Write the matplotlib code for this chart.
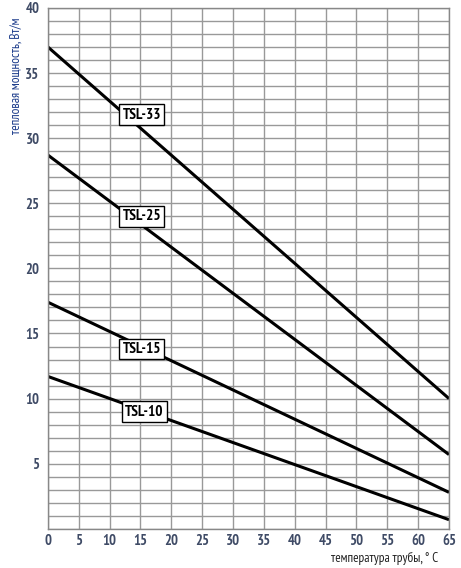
import matplotlib
matplotlib.use('Agg')
import matplotlib.pyplot as plt
import numpy as np

plt.rcParams['font.family'] = ['PT Sans Narrow', 'DejaVu Sans']

# pipe temperature range
temps = [0, 65]

# heat output at 0 and 65 degC for each cable type
tsl33 = [37.0, 10.0]
tsl25 = [28.7, 5.7]
tsl15 = [17.4, 2.8]
tsl10 = [11.7, 0.7]

names = ['TSL-33', 'TSL-25', 'TSL-15', 'TSL-10']
label_x = [15.2, 15.2, 15.2, 15.6]
label_y = [31.8, 24.0, 13.8, 9.0]

xticks = list(range(0, 70, 5))
yticks = [5, 10, 15, 20, 25, 30, 35, 40]

fig = plt.figure(figsize=(4.61, 5.68), dpi=100)
ax = fig.add_axes([0.104, 0.069, 0.87, 0.917])

ax.set_xlim(0, 65)
ax.set_ylim(0, 40)
ax.set_xticks(xticks)
ax.set_yticks(yticks)
ax.set_yticks(np.arange(0, 41, 1), minor=True)
ax.grid(True, which='major', color='#999999', linewidth=1.0)
ax.grid(True, which='minor', axis='y', color='#999999', linewidth=1.0)
ax.set_axisbelow(True)
for s in ax.spines.values():
    s.set_color('#888888')
    s.set_linewidth(1.0)
ax.tick_params(which='both', length=0)
ax.tick_params(axis='both', labelsize=10.5, labelcolor='#3f4b66')
ax.tick_params(axis='x', pad=4)
ax.tick_params(axis='y', pad=6)
for lbl in ax.get_xticklabels() + ax.get_yticklabels():
    lbl.set_fontweight('bold')

for vals, name, lx, ly in zip([tsl33, tsl25, tsl15, tsl10], names, label_x, label_y):
    ax.plot(temps, vals, color='black', linewidth=2.2, solid_capstyle='butt')
    ax.text(lx, ly, name, ha='center', va='center', fontsize=11, fontweight='bold',
            bbox=dict(boxstyle='square,pad=0.22', facecolor='white', edgecolor='black', linewidth=1.0))

fig.text(0.034, 0.97, 'тепловая мощность, Вт/м', rotation=90, ha='center', va='top',
         fontsize=9.5, color='#1a3a8a')
fig.text(0.951, 0.016, 'температура трубы, ° С', ha='right', va='center',
         fontsize=9.5, color='#222222')

fig.savefig('out.png', dpi=100)
